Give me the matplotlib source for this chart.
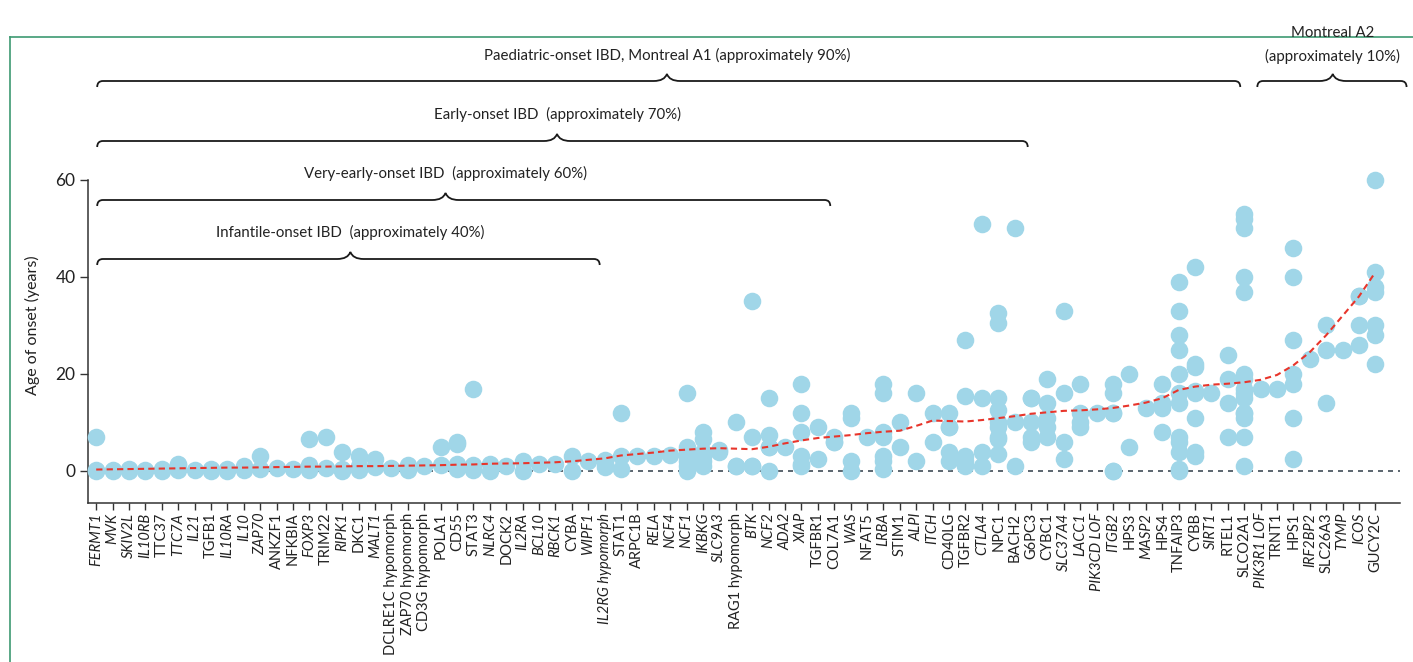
import matplotlib
matplotlib.use('Agg')
import matplotlib.pyplot as plt
import matplotlib.transforms as mtransforms
from matplotlib.path import Path
from matplotlib.patches import PathPatch
from matplotlib.lines import Line2D
from matplotlib import font_manager

# ---------------- data ----------------
genes = ["FERMT1", "MVK", "SKIV2L", "IL10RB", "TTC37", "TTC7A", "IL21", "TGFB1", "IL10RA", "IL10",
         "ZAP70", "ANKZF1", "NFKBIA", "FOXP3", "TRIM22", "RIPK1", "DKC1", "MALT1",
         "DCLRE1C hypomorph", "ZAP70 hypomorph", "CD3G hypomorph", "POLA1", "CD55", "STAT3",
         "NLRC4", "DOCK2", "IL2RA", "BCL10", "RBCK1", "CYBA", "WIPF1", "IL2RG hypomorph",
         "STAT1", "ARPC1B", "RELA", "NCF4", "NCF1", "IKBKG", "SLC9A3", "RAG1 hypomorph",
         "BTK", "NCF2", "ADA2", "XIAP", "TGFBR1", "COL7A1", "WAS", "NFAT5", "LRBA", "STIM1",
         "ALPI", "ITCH", "CD40LG", "TGFBR2", "CTLA4", "NPC1", "BACH2", "G6PC3", "CYBC1",
         "SLC37A4", "LACC1", "PIK3CD LOF", "ITGB2", "HPS3", "MASP2", "HPS4", "TNFAIP3", "CYBB",
         "SIRT1", "RTEL1", "SLCO2A1", "PIK3R1 LOF", "TRNT1", "HPS1", "IRF2BP2", "SLC26A3",
         "TYMP", "ICOS", "GUCY2C"]

upright_genes = {"TGFB1", "TTC37", "ANKZF1", "NFKBIA", "TRIM22", "DKC1", "DCLRE1C hypomorph",
                 "ZAP70 hypomorph", "CD3G hypomorph", "POLA1", "CD55", "STAT3", "DOCK2",
                 "CYBA", "STAT1", "ARPC1B", "RAG1 hypomorph", "TGFBR1", "COL7A1", "NFAT5",
                 "STIM1", "CD40LG", "TGFBR2", "NPC1", "BACH2", "G6PC3", "CYBC1", "HPS3",
                 "HPS4", "TNFAIP3", "CYBB", "RTEL1", "SLCO2A1", "TRNT1", "HPS1", "SLC26A3",
                 "GUCY2C"}

onset_ages = [
    [7, 0.3, 0], [0.2, 0], [0.5, 0], [0.3, 0], [0.5, 0], [1.5, 1.2, 0.3], [0.3], [0.4, 0],
    [0.5, 0.1], [1, 0.2], [3, 0.5], [0.6], [0.5], [6.5, 1.2, 0.2], [7, 0.6], [4, 0.5, 0],
    [3, 1, 0.2], [2.5, 0.8], [0.6], [1.2, 0.2], [1], [5, 1.2], [6, 5.5, 1.5, 0.5],
    [17, 1.2, 0.3], [1.5, 0], [1], [2, 0], [1.5], [1.5], [3, 0], [2], [2.2, 1.5, 0.8],
    [12, 3, 0.5], [3], [3], [3.3], [16, 5, 4, 3, 2, 1, 0], [8, 6.5, 4, 3, 2, 1], [4.3, 4],
    [10, 1, 1], [35, 7, 1, 1], [15, 7.5, 5, 5, 0], [5], [18, 12, 8, 3, 1.5, 1], [9, 2.5],
    [7, 6, 6], [12, 11, 2, 0], [7], [18, 16, 8, 7, 3, 2, 0.5], [10, 5], [16, 2], [12, 6],
    [12, 9, 9, 4, 2], [27, 15.5, 3, 2, 1], [51, 15, 4, 1],
    [32.5, 30.5, 15, 12.5, 10, 9, 7, 6.5, 3.5], [50, 10, 1], [15, 15, 10, 7, 6],
    [19, 14, 11, 9, 7], [33, 16, 6, 2.5], [18, 12, 10, 9], [12], [18, 16, 12, 12, 0, 0],
    [20, 5], [13], [18, 14, 13, 8], [39, 33, 28, 25, 20, 16, 14, 7, 6, 4, 0.5, 0],
    [42, 22, 21.5, 16.5, 16, 11, 4, 3], [16], [24, 19, 14, 7],
    [53, 52, 50, 40, 37, 20, 19, 17, 16, 15, 12, 12, 11, 7, 1], [17], [17],
    [46, 40, 27, 20, 18, 11, 2.5], [23], [30, 25, 14], [25], [36, 36, 30, 26],
    [60, 41, 38, 37, 30, 28, 22]]

trend = [0.3, 0.35, 0.4, 0.45, 0.5, 0.55, 0.6, 0.65, 0.7, 0.7, 0.75, 0.8, 0.85, 0.9, 0.9,
         0.95, 1.0, 1.0, 1.05, 1.1, 1.15, 1.2, 1.3, 1.35, 1.5, 1.55, 1.6, 1.7, 1.8, 2.0, 2.3,
         2.6, 3.2, 3.5, 3.8, 4.2, 4.4, 4.6, 4.7, 4.6, 4.5, 5.0, 5.7, 6.3, 6.8, 7.1, 7.4, 7.8,
         8.1, 8.3, 9.3, 10.4, 10.3, 10.2, 10.5, 10.9, 11.3, 11.8, 12.1, 12.4, 12.5, 12.7,
         13.0, 13.5, 14.1, 15.0, 16.7, 17.4, 17.8, 18.0, 18.3, 18.8, 19.8, 21.8, 24.5, 28.0,
         32.0, 36.0, 41.0]

y_ticks = [0, 20, 40, 60]

bracket_labels = ["Paediatric-onset IBD, Montreal A1 (approximately 90%)",
                  "Montreal A2\n(approximately 10%)",
                  "Early-onset IBD  (approximately 70%)",
                  "Very-early-onset IBD  (approximately 60%)",
                  "Infantile-onset IBD  (approximately 40%)"]
bracket_start = [0.06, 70.8, 0.06, 0.06, 0.06]
bracket_end = [69.76, 79.9, 56.8, 44.76, 30.7]
bracket_peak = [34.8, 75.4, 28.1, 21.3, 15.5]

# ---------------- fonts ----------------
available = {f.name for f in font_manager.fontManager.ttflist}
family = 'DejaVu Sans'
for cand in ['Lato', 'Roboto', 'Liberation Sans']:
    if cand in available:
        family = cand
        break
plt.rcParams['font.family'] = [family, 'DejaVu Sans']

W, H = 1413, 662
fig = plt.figure(figsize=(W / 100, H / 100), dpi=100)
ax = fig.add_axes([88 / W, 159 / H, 1312 / W, 323 / H])

dot_color = '#a0d6e8'
x_all, y_all = [], []
for i, ages in enumerate(onset_ages):
    x_all += [i] * len(ages)
    y_all += ages

ax.axhline(0, color='#3f4b56', lw=1.2, dashes=(3, 3), zorder=1)
ax.scatter(x_all, y_all, s=160, color=dot_color, linewidths=0, zorder=3, clip_on=False)
ax.plot(range(len(trend)), trend, color='#e8352b', lw=1.5, dashes=(3, 2), zorder=4)

ax.set_xlim(-0.5, 79.5)
ax.set_ylim(-6.6, 60)
ax.spines['top'].set_visible(False)
ax.spines['right'].set_visible(False)
for s in ['left', 'bottom']:
    ax.spines[s].set_color('#333333')
    ax.spines[s].set_linewidth(1.1)
ax.spines['left'].set_bounds(-6.6, 60)

ax.set_yticks(y_ticks)
ax.set_yticklabels([str(t) for t in y_ticks], fontsize=12.5, color='#222222')
ax.tick_params(axis='y', length=6, width=1, color='#333333', pad=3)
ax.set_xticks(range(len(genes)))
ax.set_xticklabels(genes, rotation=90, fontsize=10.5, color='#222222')
for lbl, g in zip(ax.get_xticklabels(), genes):
    lbl.set_style('normal' if g in upright_genes else 'italic')
ax.tick_params(axis='x', length=5, width=1, color='#333333', pad=2)

fig.text(32 / W, 1 - 325 / H, "Age of onset (years)", rotation=90, ha='center', va='center',
         fontsize=11.5, color='#222222')

# ---------------- brackets ----------------
trans = mtransforms.blended_transform_factory(ax.transData, fig.transFigure)
bracket_y = [81, 81, 141, 200, 259]
text_y = [55, 45, 114, 173, 232]


def brace(x0, x1, xp, ypx):
    yb = 1 - ypx / H
    he = 6 / H
    hp = 7 / H
    r = 0.35
    w = 0.8
    verts = [(x0, yb - he), (x0, yb), (x0 + r, yb),
             (xp - w, yb), (xp - 0.15, yb), (xp, yb + hp),
             (xp + 0.15, yb), (xp + w, yb),
             (x1 - r, yb), (x1, yb), (x1, yb - he)]
    codes = [Path.MOVETO, Path.CURVE3, Path.CURVE3, Path.LINETO, Path.CURVE3, Path.CURVE3,
             Path.CURVE3, Path.CURVE3, Path.LINETO, Path.CURVE3, Path.CURVE3]
    patch = PathPatch(Path(verts, codes), transform=trans, fill=False, lw=1.3,
                      edgecolor='#1a1a1a', clip_on=False)
    fig.add_artist(patch)


for lab, x0, x1, xp, yb, ty in zip(bracket_labels, bracket_start, bracket_end, bracket_peak,
                                  bracket_y, text_y):
    brace(x0, x1, xp, yb)
    fig.text(xp, 1 - ty / H, lab, transform=trans, ha='center', va='center', fontsize=10.8,
             color='#222222', linespacing=1.7)

# frame lines
frame_c = '#3d9a72'
fig.add_artist(Line2D([10 / W, 1], [1 - 37 / H, 1 - 37 / H], transform=fig.transFigure,
                      color=frame_c, lw=1.2))
fig.add_artist(Line2D([10 / W, 10 / W], [0, 1 - 37 / H], transform=fig.transFigure,
                      color=frame_c, lw=1.2))

fig.savefig('out.png', dpi=100)
